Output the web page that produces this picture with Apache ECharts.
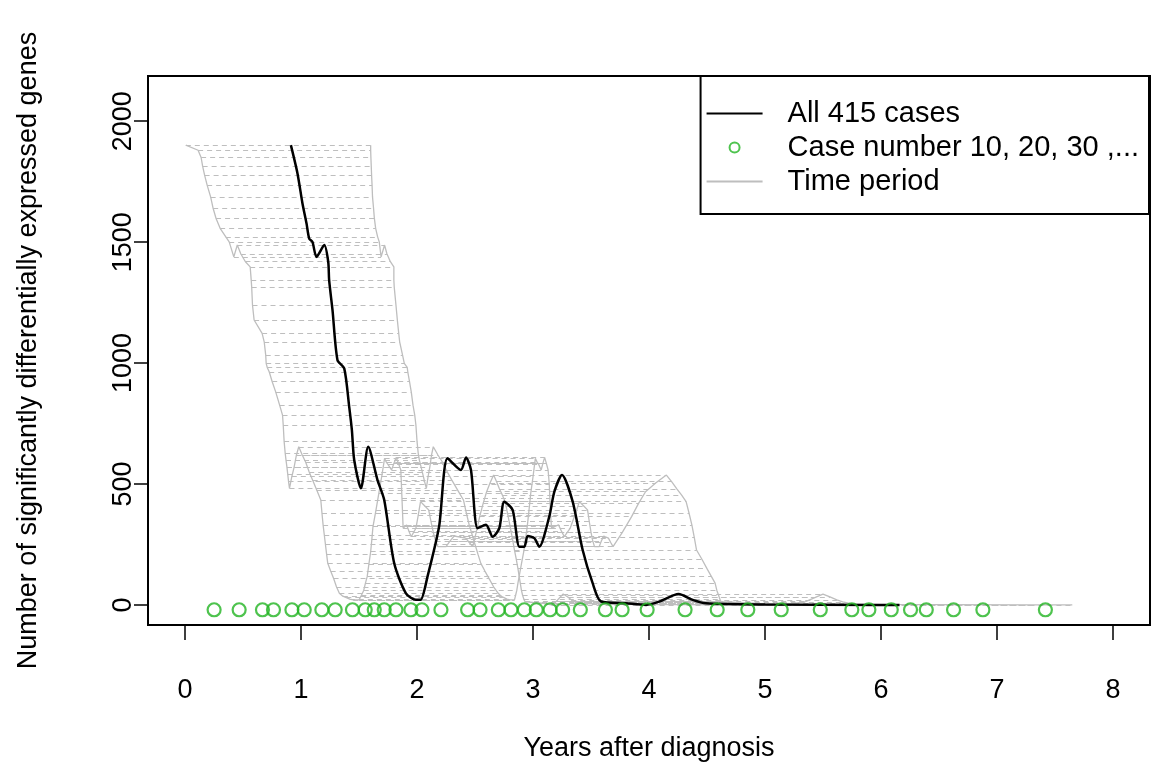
<!DOCTYPE html>
<html>
<head>
<meta charset="utf-8">
<script src="https://cdn.jsdelivr.net/npm/echarts@6/dist/echarts.min.js"></script>
<style>
  html, body { margin: 0; padding: 0; background: #fff; }
  #chart { width: 1156px; height: 763px; }
</style>
</head>
<body>
<div id="chart"></div>
<script>
// black curve: sliding window of cases, years vs number of DE genes
const lineX = [0.912, 0.969, 1.012, 1.047, 1.07, 1.098, 1.133, 1.2, 1.234, 1.242, 1.271, 1.314, 1.372, 1.415, 1.438,
  1.458, 1.516, 1.579, 1.659, 1.717, 1.803, 1.904, 1.99, 2.03, 2.09, 2.19, 2.263, 2.378, 2.422, 2.465,
  2.522, 2.594, 2.652, 2.709, 2.752, 2.824, 2.882, 2.925, 2.954, 3.011, 3.054, 3.14, 3.184, 3.25, 3.342,
  3.428, 3.514, 3.587, 3.8, 3.975, 4.09, 4.255, 4.377, 4.49, 5.0, 5.99, 6.16];
const lineY = [1901, 1784, 1660, 1577, 1515, 1501, 1439, 1488, 1419, 1343, 1219, 1012, 978, 819, 723,
  599, 482, 654, 516, 434, 172, 48, 21, 21, 117, 324, 606, 558, 610, 558,
  317, 331, 282, 317, 427, 393, 241, 241, 285, 276, 241, 365, 468, 537, 427,
  227, 90, 14, 7, 0, 14, 45, 21, 7, 2, 0, 0];

// case number 10, 20, 30, ... (years after diagnosis)
const caseX = [0.25, 0.466, 0.667, 0.762, 0.921, 1.027, 1.179, 1.294, 1.443, 1.553, 1.631, 1.717, 1.818, 1.947,
  2.042, 2.206, 2.436, 2.543, 2.701, 2.81, 2.925, 3.028, 3.147, 3.255, 3.408, 3.624, 3.768, 3.984,
  4.311, 4.588, 4.852, 5.14, 5.477, 5.749, 5.896, 6.089, 6.255, 6.391, 6.626, 6.879, 7.418];
const caseY = -20;

// time period covered by each window: height, first year, last year
const periodY = [1901, 1880, 1850, 1814, 1777, 1736, 1687, 1639, 1598, 1557, 1522, 1501, 1439, 1488, 1452, 1419, 1398, 1343, 1315, 1240,
  1178, 1123, 1088, 1033, 999, 982, 964, 923, 881, 826, 785, 744, 675, 627,
  599, 570, 540, 510, 482, 530, 570, 620, 654, 620, 590, 550, 516, 475, 434, 380, 330, 290, 250, 210,
  172, 140, 110, 75, 48, 36, 30, 24, 21, 21, 40, 60, 90, 117, 170, 220, 270, 324, 390, 460,
  530, 606, 590, 580, 558, 585, 610, 585, 558, 500, 440, 380, 317, 325, 331, 305, 282, 300, 317, 370,
  427, 410, 393, 345, 300, 265, 241, 241, 241, 265, 285, 280, 276, 258, 241, 300, 365, 420, 468, 505,
  537, 510, 480, 455, 427, 380, 330, 280, 227, 190, 150, 120, 90, 60, 40, 25, 14, 10, 7, 3,
  0, 6, 14, 30, 45, 33, 21, 13, 7, 4, 2, 0, 0];
const periodLo = [0.006, 0.112, 0.138, 0.151, 0.168, 0.19, 0.22, 0.242, 0.267, 0.302, 0.351, 0.38, 0.42, 0.45, 0.48, 0.52, 0.561, 0.57, 0.574, 0.581,
  0.595, 0.664, 0.682, 0.695, 0.699, 0.708, 0.725, 0.751, 0.781, 0.815, 0.84, 0.846, 0.854, 0.863,
  0.87, 0.878, 0.885, 0.892, 0.9, 0.92, 0.94, 0.96, 0.98, 1.01, 1.04, 1.07, 1.1, 1.135, 1.17, 1.18, 1.19, 1.2, 1.21, 1.22,
  1.23, 1.255, 1.28, 1.305, 1.33, 1.36, 1.39, 1.42, 1.45, 1.5, 1.52, 1.54, 1.555, 1.57, 1.585, 1.6, 1.61, 1.62, 1.645, 1.67,
  1.695, 1.72, 1.735, 1.75, 1.78, 1.8, 1.82, 1.84, 1.86, 1.865, 1.87, 1.875, 1.88, 1.895, 1.91, 1.93, 1.95, 1.97, 1.99, 2.01,
  2.03, 2.065, 2.1, 2.12, 2.14, 2.16, 2.18, 2.215, 2.25, 2.285, 2.32, 2.37, 2.42, 2.45, 2.48, 2.51, 2.54, 2.57, 2.6, 2.63,
  2.66, 2.685, 2.71, 2.735, 2.76, 2.78, 2.8, 2.82, 2.84, 2.855, 2.87, 2.88, 2.89, 2.9, 2.91, 2.92, 2.93, 3.0, 3.08, 3.12,
  3.16, 3.18, 3.2, 3.23, 3.26, 3.3, 3.33, 3.36, 3.39, 3.56, 3.73, 4.78, 5.03];
const periodHi = [1.6, 1.6, 1.602, 1.605, 1.608, 1.612, 1.616, 1.625, 1.632, 1.643, 1.66, 1.674, 1.69, 1.72, 1.74, 1.77, 1.8, 1.8, 1.803, 1.818,
  1.83, 1.842, 1.85, 1.875, 1.89, 1.915, 1.92, 1.935, 1.95, 1.965, 1.98, 1.99, 2.0, 2.01,
  2.02, 2.035, 2.05, 2.065, 2.08, 2.095, 2.11, 2.125, 2.14, 2.18, 2.22, 2.26, 2.3, 2.35, 2.4, 2.425, 2.45, 2.475, 2.5, 2.525,
  2.55, 2.585, 2.62, 2.66, 2.7, 2.725, 2.75, 2.775, 2.8, 2.84, 2.85, 2.86, 2.87, 2.88, 2.9, 2.92, 2.935, 2.95, 2.965, 2.98,
  3.0, 3.02, 3.035, 3.05, 3.07, 3.085, 3.1, 3.115, 3.13, 3.14, 3.145, 3.15, 3.16, 3.19, 3.22, 3.245, 3.27, 3.295, 3.32, 3.36,
  3.4, 3.435, 3.47, 3.485, 3.5, 3.515, 3.53, 3.55, 3.57, 3.59, 3.61, 3.63, 3.65, 3.67, 3.69, 3.77, 3.85, 3.91, 3.97, 4.06,
  4.15, 4.195, 4.24, 4.28, 4.32, 4.345, 4.37, 4.39, 4.41, 4.455, 4.5, 4.535, 4.57, 4.585, 4.6, 4.61, 4.62, 4.76, 4.9, 5.02,
  5.15, 5.25, 5.35, 5.43, 5.5, 5.56, 5.62, 5.67, 5.72, 5.75, 5.78, 7.3, 7.65];

const xTicks = [0, 1, 2, 3, 4, 5, 6, 7, 8];
const yTicks = [0, 500, 1000, 1500, 2000];

const FONT = 'Liberation Sans';
const GREY = '#bebebe';
const GREEN = '#22b422';

let myChart = echarts.init(document.getElementById('chart'), null, { renderer: 'canvas' });

// dashed horizontal segment for each period, plus the outline through its ends
let periodSegs = periodY.map((y, i) => ({ coords: [[periodLo[i], y], [periodHi[i], y]] }));
let loEdge = periodY.map((y, i) => [periodLo[i], y]);
let hiEdge = periodY.map((y, i) => [periodHi[i], y]);

myChart.setOption({
  animation: false,
  backgroundColor: '#fff',
  textStyle: { fontFamily: FONT },
  grid: {
    left: 148, top: 76, right: 6, bottom: 138,
    containLabel: false, outerBoundsMode: 'none',
    show: true, borderColor: '#000', borderWidth: 2, backgroundColor: 'transparent'
  },
  legend: {
    orient: 'vertical',
    right: 7, top: 76,
    backgroundColor: '#fff',
    borderColor: '#000', borderWidth: 2, borderRadius: 0,
    padding: [23, 10, 18, 6],
    itemGap: 5, itemWidth: 56, itemHeight: 10,
    textStyle: { fontSize: 29, fontFamily: FONT, color: '#000', padding: [0, 0, 0, 20] },
    data: [
      { name: 'All 415 cases', icon: 'path://M0,0H60V2H0Z', itemStyle: { color: '#000', borderWidth: 0 } },
      { name: 'Case number 10, 20, 30 ,...', icon: 'circle', itemStyle: { color: '#fff', borderColor: GREEN, borderWidth: 2 } },
      { name: 'Time period', icon: 'path://M0,0H60V2H0Z', itemStyle: { color: GREY, borderWidth: 0 } }
    ]
  },
  xAxis: {
    type: 'value', min: -0.32, max: 8.32,
    name: 'Years after diagnosis', nameLocation: 'middle', nameGap: 110,
    nameTextStyle: { fontSize: 27, color: '#000', fontFamily: FONT },
    axisLine: { show: false, onZero: false },
    splitLine: { show: false },
    axisTick: { show: true, customValues: xTicks, length: 15, lineStyle: { color: '#000', width: 1.5 } },
    axisLabel: { customValues: xTicks, fontSize: 27, color: '#000', margin: 52, fontFamily: FONT }
  },
  yAxis: {
    type: 'value', min: -83, max: 2187,
    name: 'Number of significantly differentially expressed genes', nameLocation: 'middle', nameGap: 106, nameRotate: 90,
    nameTextStyle: { fontSize: 27, color: '#000', fontFamily: FONT },
    axisLine: { show: false, onZero: false },
    splitLine: { show: false },
    axisTick: { show: true, customValues: yTicks, length: 14, lineStyle: { color: '#000', width: 1.5 } },
    axisLabel: {
      customValues: yTicks, fontSize: 27, color: '#000', margin: 11, rotate: 90, fontFamily: FONT,
      formatter: v => String(v)
    }
  },
  series: [
    {
      name: 'Time period', type: 'lines', coordinateSystem: 'cartesian2d', polyline: false,
      silent: true, z: 1,
      lineStyle: { color: GREY, width: 1.2, type: [5, 4], opacity: 1 },
      data: periodSegs
    },
    {
      name: 'Time period', type: 'line', data: loEdge, symbol: 'none', silent: true, z: 1,
      lineStyle: { color: GREY, width: 1.3 }
    },
    {
      name: 'Time period', type: 'line', data: hiEdge, symbol: 'none', silent: true, z: 1,
      lineStyle: { color: GREY, width: 1.3 }
    },
    {
      name: 'All 415 cases', type: 'line', symbol: 'none', z: 3, smooth: 0.25,
      lineStyle: { color: '#000', width: 2.5 },
      data: lineX.map((x, i) => [x, lineY[i]])
    },
    {
      name: 'Case number 10, 20, 30 ,...', type: 'scatter', z: 4,
      symbol: 'circle', symbolSize: 13,
      itemStyle: { color: 'rgba(255,255,255,0)', borderColor: GREEN, borderWidth: 2.2 },
      data: caseX.map(x => [x, caseY])
    }
  ]
});
</script>
</body>
</html>
